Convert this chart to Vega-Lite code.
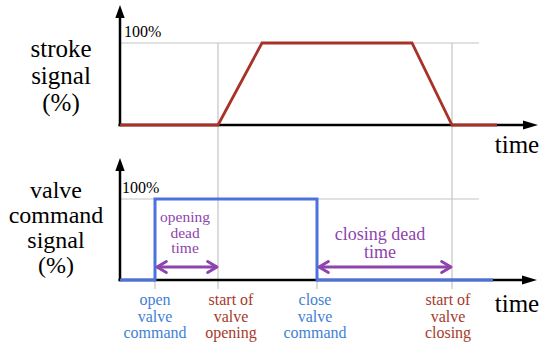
{
  "$schema": "https://vega.github.io/schema/vega-lite/v6.json",
  "background": "white",
  "padding": 0,
  "spacing": 0,
  "bounds": "flush",
  "config": {"view": {"stroke": null}, "text": {"font": "'Liberation Serif', 'Times New Roman', 'DejaVu Serif', serif"}},
  "datasets": {
    "topGrid": [
      {"t": 0, "t2": 35.9, "v": 100, "v2": 100},
      {"t": 9.8, "t2": 9.8, "v": 100, "v2": -36.6},
      {"t": 33.2, "t2": 33.2, "v": 100, "v2": -36.6}
    ],
    "topAxes": [
      {"t": 0, "t2": 0, "v": -1.5, "v2": 133},
      {"t": -0.15, "t2": 40.5, "v": 0, "v2": 0}
    ],
    "topUp": [{"t": 0, "v": 138.4}],
    "topRight": [{"t": 41.05, "v": 0}],
    "stroke": [
      {"i": 1, "t": 0, "v": 0},
      {"i": 2, "t": 9.8, "v": 0},
      {"i": 3, "t": 14.2, "v": 100},
      {"i": 4, "t": 29.2, "v": 100},
      {"i": 5, "t": 33.2, "v": 0},
      {"i": 6, "t": 37.7, "v": 0}
    ],
    "topPct": [{"label": "100%", "t": 0.4, "v": 107.3}],
    "topTitle": [{"label": "stroke\nsignal\n(%)", "t": -5.9, "v": 82.9}],
    "topTime": [{"label": "time", "t": 39.7, "v": -34.1}],
    "botGrid": [
      {"t": 0, "t2": 35.9, "v": 100, "v2": 100},
      {"t": 9.8, "t2": 9.8, "v": 154.4, "v2": -11.1},
      {"t": 33.2, "t2": 33.2, "v": 154.4, "v2": -11.1},
      {"t": 3.5, "t2": 3.5, "v": 0, "v2": -11.1},
      {"t": 19.7, "t2": 19.7, "v": 0, "v2": -11.1}
    ],
    "botAxes": [
      {"t": 0, "t2": 0, "v": -1.5, "v2": 137},
      {"t": -0.15, "t2": 40.3, "v": 0, "v2": 0}
    ],
    "botUp": [{"t": 0, "v": 142.6}],
    "botRight": [{"t": 40.95, "v": 0}],
    "command": [
      {"i": 1, "t": 0, "v": 0},
      {"i": 2, "t": 3.5, "v": 0},
      {"i": 3, "t": 3.5, "v": 100},
      {"i": 4, "t": 19.7, "v": 100},
      {"i": 5, "t": 19.7, "v": 0},
      {"i": 6, "t": 37.3, "v": 0}
    ],
    "dead": [
      {"t": 3.7, "t2": 9.7, "v": 16},
      {"t": 19.9, "t2": 33.1, "v": 16}
    ],
    "deadLeft": [{"t": 3.7, "v": 16}, {"t": 19.9, "v": 16}],
    "deadRight": [{"t": 9.7, "v": 16}, {"t": 33.1, "v": 16}],
    "botPct": [{"label": "100%", "t": 0.2, "v": 107.4}],
    "botTitle": [{"label": "valve\ncommand\nsignal\n(%)", "t": -6.4, "v": 101.2}],
    "openDead": [{"label": "opening\ndead\ntime", "t": 6.5, "v": 71.6}],
    "closeDead": [{"label": "closing dead\ntime", "t": 26, "v": 49.4}],
    "blueLabels": [
      {"label": "open\nvalve\ncommand", "t": 3.5, "v": -30.9},
      {"label": "close\nvalve\ncommand", "t": 19.5, "v": -30.9}
    ],
    "redLabels": [
      {"label": "start of\nvalve\nopening", "t": 11.1, "v": -30.9},
      {"label": "start of\nvalve\nclosing", "t": 32.8, "v": -30.9}
    ],
    "botTime": [{"label": "time", "t": 39.7, "v": -39.5}]
  },
  "vconcat": [
    {
      "width": 550,
      "height": 155,
      "encoding": {
        "x": {"field": "t", "type": "quantitative", "scale": {"domain": [-12, 43], "nice": false, "zero": false}, "axis": null},
        "y": {"field": "v", "type": "quantitative", "scale": {"domain": [-36.59, 152.44], "nice": false, "zero": false}, "axis": null}
      },
      "layer": [
        {"data": {"name": "topGrid"}, "mark": {"type": "rule", "color": "#c4c4c4", "strokeWidth": 1.2},
         "encoding": {"x2": {"field": "t2"}, "y2": {"field": "v2"}}},
        {"data": {"name": "topAxes"}, "mark": {"type": "rule", "color": "black", "strokeWidth": 2.5},
         "encoding": {"x2": {"field": "t2"}, "y2": {"field": "v2"}}},
        {"data": {"name": "topUp"}, "mark": {"type": "point", "shape": "M0,-1L0.72,1L-0.72,1Z", "size": 169, "filled": true, "color": "black", "opacity": 1}},
        {"data": {"name": "topRight"}, "mark": {"type": "point", "shape": "M1,0L-1,0.6L-1,-0.6Z", "size": 225, "filled": true, "color": "black", "opacity": 1}},
        {"data": {"name": "stroke"}, "mark": {"type": "line", "color": "#a83228", "strokeWidth": 2.8},
         "encoding": {"order": {"field": "i", "type": "quantitative"}}},
        {"data": {"name": "topPct"}, "mark": {"type": "text", "fontSize": 16, "align": "left", "baseline": "alphabetic", "color": "black"},
         "encoding": {"text": {"field": "label", "type": "nominal"}}},
        {"data": {"name": "topTitle"}, "mark": {"type": "text", "fontSize": 25, "align": "center", "baseline": "alphabetic", "lineBreak": "\n", "lineHeight": 27, "color": "black"},
         "encoding": {"text": {"field": "label", "type": "nominal"}}},
        {"data": {"name": "topTime"}, "mark": {"type": "text", "fontSize": 25, "align": "center", "baseline": "alphabetic", "color": "black"},
         "encoding": {"text": {"field": "label", "type": "nominal"}}}
      ]
    },
    {
      "width": 550,
      "height": 192,
      "encoding": {
        "x": {"field": "t", "type": "quantitative", "scale": {"domain": [-12, 43], "nice": false, "zero": false}, "axis": null},
        "y": {"field": "v", "type": "quantitative", "scale": {"domain": [-82.72, 154.32], "nice": false, "zero": false}, "axis": null}
      },
      "layer": [
        {"data": {"name": "botGrid"}, "mark": {"type": "rule", "color": "#c4c4c4", "strokeWidth": 1.2},
         "encoding": {"x2": {"field": "t2"}, "y2": {"field": "v2"}}},
        {"data": {"name": "botAxes"}, "mark": {"type": "rule", "color": "black", "strokeWidth": 2.5},
         "encoding": {"x2": {"field": "t2"}, "y2": {"field": "v2"}}},
        {"data": {"name": "botUp"}, "mark": {"type": "point", "shape": "M0,-1L0.72,1L-0.72,1Z", "size": 169, "filled": true, "color": "black", "opacity": 1}},
        {"data": {"name": "botRight"}, "mark": {"type": "point", "shape": "M1,0L-1,0.6L-1,-0.6Z", "size": 225, "filled": true, "color": "black", "opacity": 1}},
        {"data": {"name": "command"}, "mark": {"type": "line", "color": "#4a73de", "strokeWidth": 3},
         "encoding": {"order": {"field": "i", "type": "quantitative"}}},
        {"data": {"name": "dead"}, "mark": {"type": "rule", "color": "#8e44ad", "strokeWidth": 3},
         "encoding": {"x2": {"field": "t2"}}},
        {"data": {"name": "deadLeft"}, "mark": {"type": "point", "shape": "M1.7,-1L0,0L1.7,1", "size": 121, "filled": false, "color": "#8e44ad", "strokeWidth": 3, "strokeCap": "round", "strokeJoin": "round", "opacity": 1}},
        {"data": {"name": "deadRight"}, "mark": {"type": "point", "shape": "M-1.7,-1L0,0L-1.7,1", "size": 121, "filled": false, "color": "#8e44ad", "strokeWidth": 3, "strokeCap": "round", "strokeJoin": "round", "opacity": 1}},
        {"data": {"name": "botPct"}, "mark": {"type": "text", "fontSize": 16, "align": "left", "baseline": "alphabetic", "color": "black"},
         "encoding": {"text": {"field": "label", "type": "nominal"}}},
        {"data": {"name": "botTitle"}, "mark": {"type": "text", "fontSize": 24, "align": "center", "baseline": "alphabetic", "lineBreak": "\n", "lineHeight": 25, "color": "black"},
         "encoding": {"text": {"field": "label", "type": "nominal"}}},
        {"data": {"name": "openDead"}, "mark": {"type": "text", "fontSize": 15.5, "align": "center", "baseline": "alphabetic", "lineBreak": "\n", "lineHeight": 15.5, "color": "#8e44ad"},
         "encoding": {"text": {"field": "label", "type": "nominal"}}},
        {"data": {"name": "closeDead"}, "mark": {"type": "text", "fontSize": 18, "align": "center", "baseline": "alphabetic", "lineBreak": "\n", "lineHeight": 18.5, "color": "#8e44ad"},
         "encoding": {"text": {"field": "label", "type": "nominal"}}},
        {"data": {"name": "blueLabels"}, "mark": {"type": "text", "fontSize": 16, "align": "center", "baseline": "alphabetic", "lineBreak": "\n", "lineHeight": 16.5, "color": "#3f7fd6"},
         "encoding": {"text": {"field": "label", "type": "nominal"}}},
        {"data": {"name": "redLabels"}, "mark": {"type": "text", "fontSize": 16, "align": "center", "baseline": "alphabetic", "lineBreak": "\n", "lineHeight": 16.5, "color": "#a63a2c"},
         "encoding": {"text": {"field": "label", "type": "nominal"}}},
        {"data": {"name": "botTime"}, "mark": {"type": "text", "fontSize": 25, "align": "center", "baseline": "alphabetic", "color": "black"},
         "encoding": {"text": {"field": "label", "type": "nominal"}}}
      ]
    }
  ]
}
